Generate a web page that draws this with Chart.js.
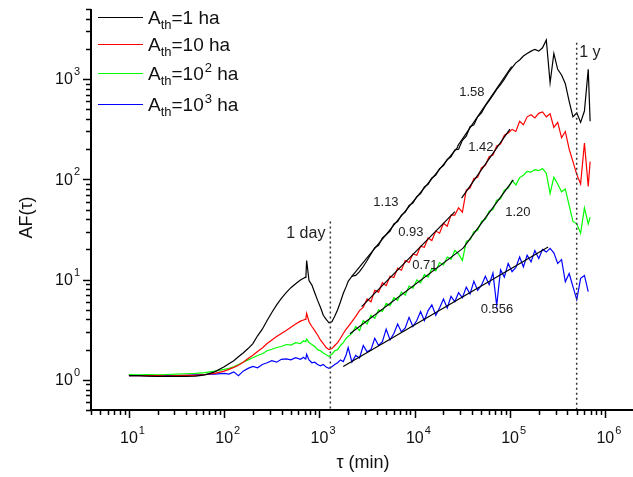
<!DOCTYPE html>
<html>
<head>
<meta charset="utf-8">
<title>AF(tau)</title>
<script src="https://cdn.jsdelivr.net/npm/chart.js"></script>
<style>
  body { margin: 0; background: #fff; }
  canvas { display: block; }
</style>
</head>
<body>
<canvas id="afChart" width="633" height="477"></canvas>
<script>
// tau (min), shared by the four curves
const tau = [
  10, 12.6, 15.8, 20, 25.1, 31.6, 39.8, 50.1, 63.1, 79.4,
  100, 112, 126, 141, 158, 178, 200, 224, 251, 282,
  316, 355, 398, 447, 501, 562, 631, 680, 708, 720,
  733, 776, 832, 891, 955, 1023, 1096, 1175, 1259, 1349,
  1445, 1549, 1660, 1778, 1905,
  2000, 2190, 2400, 2630, 2880, 3160, 3470, 3800, 4170, 4570,
  5010, 5500, 6030, 6610, 7240, 7940, 8710, 9550, 10500, 11500,
  12600, 13800, 15100, 16600, 18200, 20000, 21900, 24000, 26300, 28800,
  31600, 34700, 38000, 41700, 45700, 50100, 55000, 60300, 66100, 72400,
  79400, 87100, 95500, 105000, 115000, 126000, 138000, 151000, 166000, 182000,
  200000, 219000, 240000, 263000, 288000, 316000, 347000, 380000, 417000, 457000,
  501000, 550000, 603000, 661000, 692000
];

// AF for A_th = 1 ha
const af1 = [
  1.10, 1.10, 1.09, 1.08, 1.08, 1.08, 1.08, 1.09, 1.12, 1.20,
  1.35, 1.45, 1.55, 1.70, 1.85, 2.05, 2.30, 2.75, 3.20, 3.90,
  4.70, 5.60, 6.50, 7.40, 8.30, 9.10, 9.90, 10.3, 10.5, 10.7,
  15.5, 9.8, 8.8, 7.4, 6.2, 5.3, 4.4, 4.0, 3.7, 3.8,
  4.3, 5.0, 6.0, 7.3, 8.5,
  9.6, 10.8, 11.0, 12.0, 13.5, 15.5, 18.0, 20.8, 22.0, 26.0,
  28.0, 30.5, 36.0, 38.0, 44.0, 47.0, 55.0, 58.0, 67.0, 72.0,
  84.0, 89.0, 103, 110, 128, 137, 158, 168, 196, 200,
  245, 270, 335, 350, 420, 460, 540, 610, 690, 790,
  880, 1000, 1150, 1300, 1450, 1550, 1700, 1800, 1900, 1980,
  1900, 2050, 2450, 920, 1800, 1250, 1100, 900, 600, 420,
  460, 370, 480, 1250, 380
];

// AF for A_th = 10 ha
const af10 = [
  1.10, 1.10, 1.10, 1.10, 1.09, 1.10, 1.11, 1.11, 1.13, 1.16,
  1.22, 1.27, 1.33, 1.40, 1.50, 1.63, 1.76, 1.92, 2.08, 2.30,
  2.50, 2.70, 2.90, 3.10, 3.35, 3.60, 3.85, 3.95, 4.00, 4.10,
  4.60, 3.80, 3.40, 3.10, 2.80, 2.50, 2.30, 2.10, 2.00, 2.05,
  2.20, 2.35, 2.60, 2.90, 3.20,
  3.4, 3.8, 4.3, 4.9, 5.3, 6.4, 6.0, 7.8, 7.5, 9.3,
  8.7, 10.8, 10.5, 13.0, 12.4, 15.5, 14.8, 18.0, 17.5, 21.5,
  21.0, 26.0, 24.5, 30.5, 29.0, 36.5, 34.0, 44.0, 44.0, 52.0,
  47.0, 78.0, 82.0, 102, 105, 130, 138, 168, 175, 215,
  225, 275, 290, 315, 300, 380, 350, 420, 440, 410,
  455, 470, 420, 450, 330, 370, 260, 300, 200, 150,
  112, 90, 230, 85, 150
];

// AF for A_th = 10^2 ha
const af100 = [
  1.13, 1.12, 1.13, 1.12, 1.13, 1.14, 1.15, 1.16, 1.18, 1.22,
  1.27, 1.30, 1.35, 1.42, 1.50, 1.58, 1.66, 1.75, 1.82, 1.95,
  2.02, 2.10, 2.15, 2.25, 2.22, 2.35, 2.30, 2.45, 2.40, 2.45,
  2.55, 2.35, 2.25, 2.15, 2.00, 1.95, 1.85, 1.78, 1.72, 1.80,
  1.95, 2.00, 2.20, 2.35, 2.60,
  2.7, 2.9, 3.4, 3.1, 3.9, 3.6, 4.4, 4.1, 5.0, 4.8,
  5.8, 5.5, 6.6, 6.2, 7.5, 7.0, 8.6, 8.2, 9.9, 9.3,
  11.2, 10.6, 12.9, 12.2, 14.8, 14.0, 16.8, 16.0, 19.5, 18.0,
  15.5, 24.0, 25.0, 30.0, 31.0, 38.0, 40.0, 48.0, 50.0, 62.0,
  64.0, 78.0, 82.0, 97.0, 88.0, 104, 110, 120, 118, 125,
  122, 128, 115, 72, 105, 90, 75, 80, 55, 38,
  36, 29, 52, 36, 42
];

// AF for A_th = 10^3 ha
const af1000 = [
  1.10, 1.10, 1.10, 1.09, 1.10, 1.10, 1.11, 1.12, 1.13, 1.14,
  1.16, 1.14, 1.20, 1.10, 1.22, 1.30, 1.36, 1.32, 1.42, 1.48,
  1.55, 1.50, 1.60, 1.62, 1.58, 1.66, 1.60, 1.68, 1.62, 1.65,
  1.80, 1.58, 1.48, 1.50, 1.42, 1.38, 1.42, 1.34, 1.30, 1.35,
  1.42, 1.48, 1.58, 1.52, 1.78,
  2.1, 1.5, 1.75, 1.65, 2.2, 1.9, 2.0, 2.6, 2.2, 2.4,
  3.2, 2.5, 2.9, 3.6, 3.0, 3.3, 4.2, 3.4, 3.9, 4.8,
  3.9, 4.9, 5.6, 4.4, 5.2, 6.4, 5.2, 6.8, 6.0, 7.4,
  6.6, 8.4, 7.2, 9.6, 7.8, 8.8, 10.8, 8.9, 11.6, 5.5,
  12.5, 10.6, 14.5, 12.0, 13.2, 16.8, 13.4, 17.5, 15.0, 19.5,
  16.2, 20.0, 18.8, 20.5, 18.5, 14.5, 15.8, 9.5, 11.5, 8.5,
  6.3, 10.3, 11.0, 7.6, null
];

// power-law fits (start/end in tau and AF) and their slopes
const fitStartTau = [2175, 27900, 2770, 31000, 2085, 32200, 1775];
const fitEndTau   = [28500, 103800, 26400, 99600, 32200, 108000, 251000];
const fitStartAF  = [10.7, 212, 5.38, 64.9, 2.88, 20.6, 1.36];
const fitEndAF    = [212, 1334, 47.7, 317, 20.6, 98.9, 21.1];
const fitSlopes   = ['1.13', '1.58', '0.93', '1.42', '0.71', '1.20', '0.556'];
const slopeLabelTau = [4980, 39700, 9100, 49400, 12760, 120800, 72800];
const slopeLabelAF  = [58.3, 730, 29.3, 206, 13.7, 46.3, 4.99];

// 1 day / 1 year markers
const markerTau = [1300, 500000];
const markerTopAF = [38, 2300];
const markerNames = ['1 day', '1 y'];
const markerLabelTau = [719, 687000];
const markerLabelAF = [28.6, 1828];

// legend
const seriesBase = ['1', '10', '10', '10'];
const seriesExp = ['', '', '2', '3'];
const seriesColors = ['#000000', '#ff0000', '#00ff00', '#0000ff'];

// axis ticks
const xDecades = [1, 2, 3, 4, 5, 6];
const yDecades = [0, 1, 2, 3];

const FONT = '"Liberation Sans", Arial, Helvetica, sans-serif';

function pts(xs, ys) {
  return xs.map((x, i) => ({ x: x, y: ys[i] }));
}

const datasets = [];
[af1, af10, af100, af1000].forEach((ys, i) => {
  datasets.push({
    data: pts(tau, ys),
    borderColor: seriesColors[i],
    borderWidth: 1.2,
    pointRadius: 0,
    order: 2
  });
});
fitStartTau.forEach((t, i) => {
  datasets.push({
    data: [{ x: t, y: fitStartAF[i] }, { x: fitEndTau[i], y: fitEndAF[i] }],
    borderColor: '#000',
    borderWidth: 1.2,
    pointRadius: 0,
    order: 1
  });
});
markerTau.forEach((t, i) => {
  datasets.push({
    data: [{ x: t, y: markerTopAF[i] }, { x: t, y: 0.5 }],
    borderColor: '#333',
    borderWidth: 1.5,
    borderDash: [2, 3],
    pointRadius: 0,
    order: 0
  });
});

// "10" centred on the tick, exponent sticking out to the right
function drawPower(ctx, exp, x, y, align) {
  ctx.font = '16px ' + FONT;
  const wb = ctx.measureText('10').width;
  ctx.font = '11px ' + FONT;
  const we = ctx.measureText(exp).width;
  const x0 = align === 'right' ? x - wb - we - 1 : x - wb / 2;
  ctx.textAlign = 'left';
  ctx.textBaseline = 'middle';
  ctx.font = '16px ' + FONT;
  ctx.fillText('10', x0, y);
  ctx.font = '11px ' + FONT;
  ctx.fillText(exp, x0 + wb + 1, y - 8);
}

// axes, tick labels, titles, annotations and legend
const decorations = {
  id: 'decorations',
  afterDraw(chart) {
    const ctx = chart.ctx;
    const xs = chart.scales.x, ys = chart.scales.y;
    const a = chart.chartArea;
    ctx.save();
    ctx.strokeStyle = '#000';
    ctx.fillStyle = '#111';

    // axis lines
    ctx.lineWidth = 2;
    ctx.beginPath();
    ctx.moveTo(a.left, a.top);
    ctx.lineTo(a.left, a.bottom);
    ctx.lineTo(a.right, a.bottom);
    ctx.stroke();

    // x ticks
    ctx.lineWidth = 1.5;
    for (let d = 0; d <= 6; d++) {
      for (let m = 1; m <= 9; m++) {
        const v = m * Math.pow(10, d);
        if (v < xs.min || v > 1e6) continue;
        const px = Math.round(xs.getPixelForValue(v)) + 0.5;
        const len = m === 1 ? 8 : 5;
        ctx.beginPath();
        ctx.moveTo(px, a.bottom);
        ctx.lineTo(px, a.bottom + len);
        ctx.stroke();
      }
    }
    // y ticks
    for (let d = -1; d <= 3; d++) {
      for (let m = 1; m <= 9; m++) {
        const v = m * Math.pow(10, d);
        if (v < ys.min - 1e-9 || v > ys.max + 1e-9) continue;
        const py = Math.round(ys.getPixelForValue(v)) + 0.5;
        const len = m === 1 ? 8 : 5;
        ctx.beginPath();
        ctx.moveTo(a.left, py);
        ctx.lineTo(a.left - len, py);
        ctx.stroke();
      }
    }

    // tick labels
    xDecades.forEach(d => {
      drawPower(ctx, String(d), xs.getPixelForValue(Math.pow(10, d)), a.bottom + 29, 'center');
    });
    yDecades.forEach(d => {
      drawPower(ctx, String(d), a.left - 11, ys.getPixelForValue(Math.pow(10, d)) + 1, 'right');
    });

    // axis titles
    ctx.font = '18px ' + FONT;
    ctx.textAlign = 'center';
    ctx.textBaseline = 'middle';
    ctx.fillText('\u03c4 (min)', (a.left + a.right) / 2 + 1, 463);
    ctx.save();
    ctx.translate(27, (a.top + a.bottom) / 2 + 8);
    ctx.rotate(-Math.PI / 2);
    ctx.fillText('AF(\u03c4)', 0, 0);
    ctx.restore();

    // slope labels
    ctx.font = '13px ' + FONT;
    ctx.fillStyle = '#222';
    fitSlopes.forEach((s, i) => {
      ctx.fillText(s, xs.getPixelForValue(slopeLabelTau[i]), ys.getPixelForValue(slopeLabelAF[i]));
    });
    // marker labels
    ctx.font = '16px ' + FONT;
    markerNames.forEach((s, i) => {
      ctx.fillText(s, xs.getPixelForValue(markerLabelTau[i]), ys.getPixelForValue(markerLabelAF[i]));
    });

    // legend
    const rows = [17, 44, 73, 104];
    seriesBase.forEach((b, i) => {
      const y = rows[i];
      ctx.strokeStyle = seriesColors[i];
      ctx.lineWidth = 1.2;
      ctx.beginPath();
      ctx.moveTo(98, y + 0.5);
      ctx.lineTo(143, y + 0.5);
      ctx.stroke();
      ctx.fillStyle = '#111';
      ctx.textAlign = 'left';
      ctx.textBaseline = 'alphabetic';
      let x = 148;
      ctx.font = '19px ' + FONT;
      ctx.fillText('A', x, y + 7);
      x += ctx.measureText('A').width;
      ctx.font = '13px ' + FONT;
      ctx.fillText('th', x, y + 12);
      x += ctx.measureText('th').width;
      ctx.font = '19px ' + FONT;
      ctx.fillText('=' + b, x, y + 7);
      x += ctx.measureText('=' + b).width;
      if (seriesExp[i]) {
        ctx.font = '13px ' + FONT;
        ctx.fillText(seriesExp[i], x + 1, y - 1);
        x += ctx.measureText(seriesExp[i]).width + 1;
      }
      ctx.font = '19px ' + FONT;
      ctx.fillText(' ha', x, y + 7);
    });
    ctx.restore();
  }
};

new Chart(document.getElementById('afChart'), {
  type: 'line',
  data: { datasets: datasets },
  options: {
    responsive: false,
    animation: false,
    layout: { padding: { left: 91, top: 9, right: 0, bottom: 67 } },
    scales: {
      x: { type: 'logarithmic', min: 4, max: 1.95e6, display: false },
      y: { type: 'logarithmic', min: 0.5, max: 5000, display: false }
    },
    plugins: {
      legend: { display: false },
      tooltip: { enabled: false }
    }
  },
  plugins: [decorations]
});
</script>
</body>
</html>
